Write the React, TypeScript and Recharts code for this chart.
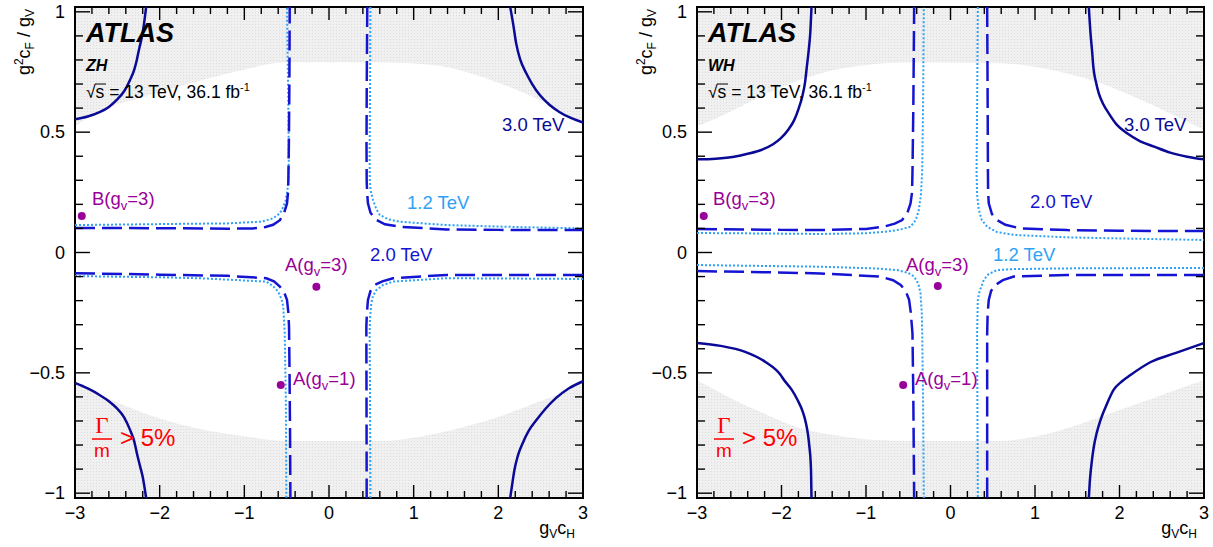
import React from "react";
import {
  ComposedChart,
  Area,
  Line,
  XAxis,
  YAxis,
  ReferenceDot,
  ReferenceArea,
} from "recharts";

const FONT = '"Liberation Sans", Arial, Helvetica, sans-serif';

// axis ticks (major + minor)
const xTicks = [
  -3, -2.8, -2.6, -2.4, -2.2, -2, -1.8, -1.6, -1.4, -1.2, -1, -0.8, -0.6, -0.4, -0.2, 0,
  0.2, 0.4, 0.6, 0.8, 1, 1.2, 1.4, 1.6, 1.8, 2, 2.2, 2.4, 2.6, 2.8, 3,
];
const yTicks = [
  -1, -0.9, -0.8, -0.7, -0.6, -0.5, -0.4, -0.3, -0.2, -0.1, 0, 0.1, 0.2, 0.3, 0.4, 0.5,
  0.6, 0.7, 0.8, 0.9, 1,
];

// Gamma/m > 5% boundary, ZH
const zhBandX = [-3, -2.7, -2.3, -1.9, -1.5, -1.1, -0.5, 0.6, 1.2, 1.6, 2.0, 2.4, 2.7, 3.0];
const zhBandUp = [0.523, 0.592, 0.635, 0.677, 0.716, 0.752, 0.79, 0.789, 0.78, 0.752, 0.705, 0.648, 0.59, 0.535];
const zhBandLo = [-0.543, -0.592, -0.652, -0.7, -0.735, -0.758, -0.783, -0.783, -0.757, -0.724, -0.683, -0.63, -0.59, -0.537];

// Gamma/m > 5% boundary, WH
const whBandX = [-3, -2.56, -2.17, -1.78, -1.38, -0.99, -0.47, 0.59, 0.99, 1.38, 1.78, 2.17, 2.56, 3.0];
const whBandUp = [0.523, 0.592, 0.661, 0.717, 0.758, 0.779, 0.789, 0.786, 0.772, 0.744, 0.703, 0.647, 0.585, 0.509];
const whBandLo = [-0.53, -0.613, -0.675, -0.73, -0.758, -0.776, -0.783, -0.783, -0.765, -0.73, -0.682, -0.634, -0.585, -0.53];

type Pt = [number, number];

// ZH contours
const zh12: Pt[][] = [
  [[-3, 0.114], [-2, 0.118], [-1.2, 0.121], [-0.8, 0.128], [-0.66, 0.142], [-0.58, 0.163], [-0.54, 0.19], [-0.51, 0.218], [-0.49, 0.26], [-0.478, 0.32], [-0.475, 0.38], [-0.48, 0.6], [-0.49, 0.85], [-0.496, 1.02]],
  [[0.489, 1.02], [0.485, 0.7], [0.48, 0.4], [0.482, 0.3], [0.49, 0.26], [0.52, 0.218], [0.56, 0.18], [0.6, 0.156], [0.7, 0.138], [0.835, 0.128], [1.386, 0.114], [2.2, 0.106], [3, 0.1]],
  [[-3, -0.098], [-2, -0.103], [-1.52, -0.107], [-0.74, -0.121], [-0.66, -0.14], [-0.6, -0.163], [-0.56, -0.195], [-0.54, -0.225], [-0.523, -0.336], [-0.51, -0.6], [-0.503, -1.02]],
  [[3, -0.11], [2, -0.108], [1.386, -0.107], [0.756, -0.121], [0.64, -0.135], [0.56, -0.156], [0.52, -0.18], [0.5, -0.211], [0.485, -0.27], [0.48, -0.336], [0.485, -0.6], [0.489, -1.02]],
];
const zh20: Pt[][] = [
  [[-3, 0.102], [-2, 0.101], [-1.2, 0.099], [-0.9, 0.1], [-0.75, 0.106], [-0.66, 0.115], [-0.58, 0.134], [-0.53, 0.165], [-0.496, 0.204], [-0.484, 0.25], [-0.48, 0.3], [-0.474, 0.45], [-0.468, 0.7], [-0.464, 1.02]],
  [[0.452, 1.02], [0.446, 0.7], [0.443, 0.45], [0.445, 0.3], [0.45, 0.25], [0.46, 0.204], [0.49, 0.165], [0.56, 0.135], [0.66, 0.117], [0.835, 0.107], [1.386, 0.096], [2, 0.094], [3, 0.093]],
  [[-3, -0.086], [-2, -0.092], [-1.2, -0.097], [-0.74, -0.107], [-0.65, -0.12], [-0.58, -0.142], [-0.53, -0.165], [-0.496, -0.197], [-0.48, -0.25], [-0.472, -0.308], [-0.466, -0.5], [-0.46, -0.75], [-0.456, -1.02]],
  [[3, -0.093], [2, -0.093], [1.386, -0.093], [0.756, -0.107], [0.63, -0.12], [0.54, -0.135], [0.49, -0.16], [0.46, -0.197], [0.448, -0.25], [0.441, -0.308], [0.443, -0.6], [0.445, -1.02]],
];
const zh30: Pt[][] = [
  [[-3, 0.554], [-2.85, 0.565], [-2.71, 0.583], [-2.6, 0.605], [-2.51, 0.633], [-2.42, 0.67], [-2.35, 0.717], [-2.3, 0.76], [-2.27, 0.8], [-2.24, 0.85], [-2.21, 0.895], [-2.185, 0.95], [-2.16, 1.02]],
  [[2.14, 1.02], [2.175, 0.95], [2.21, 0.87], [2.26, 0.8], [2.33, 0.745], [2.4, 0.7], [2.49, 0.654], [2.6, 0.615], [2.72, 0.584], [2.85, 0.56], [3, 0.54]],
  [[-3, -0.542], [-2.85, -0.565], [-2.71, -0.592], [-2.6, -0.618], [-2.51, -0.646], [-2.42, -0.685], [-2.35, -0.737], [-2.3, -0.785], [-2.27, -0.833], [-2.23, -0.89], [-2.2, -0.933], [-2.16, -1.02]],
  [[2.14, -1.02], [2.165, -0.96], [2.19, -0.904], [2.23, -0.845], [2.29, -0.79], [2.36, -0.74], [2.45, -0.696], [2.56, -0.648], [2.68, -0.605], [2.83, -0.565], [3, -0.535]],
];

// WH contours
const wh12: Pt[][] = [
  [[-3, 0.081], [-2.2, 0.079], [-1.54, 0.077], [-1.0, 0.08], [-0.75, 0.087], [-0.6, 0.095], [-0.473, 0.107], [-0.41, 0.135], [-0.375, 0.177], [-0.35, 0.24], [-0.335, 0.336], [-0.325, 0.6], [-0.316, 1.02]],
  [[0.323, 1.02], [0.315, 0.6], [0.308, 0.336], [0.315, 0.24], [0.335, 0.177], [0.37, 0.135], [0.434, 0.107], [0.55, 0.085], [0.75, 0.073], [1.38, 0.063], [2.2, 0.057], [3, 0.052]],
  [[-3, -0.052], [-2.2, -0.056], [-1.54, -0.059], [-0.9, -0.066], [-0.63, -0.073], [-0.5, -0.085], [-0.43, -0.1], [-0.38, -0.13], [-0.355, -0.17], [-0.34, -0.25], [-0.335, -0.336], [-0.325, -0.6], [-0.316, -1.02]],
  [[3, -0.064], [2.2, -0.065], [1.38, -0.066], [0.75, -0.069], [0.55, -0.073], [0.45, -0.09], [0.394, -0.114], [0.345, -0.16], [0.323, -0.197], [0.315, -0.336], [0.318, -0.6], [0.323, -1.02]],
];
const wh20: Pt[][] = [
  [[-3, 0.098], [-2, 0.094], [-1.54, 0.093], [-1.0, 0.098], [-0.79, 0.107], [-0.66, 0.12], [-0.572, 0.135], [-0.51, 0.165], [-0.473, 0.204], [-0.455, 0.25], [-0.45, 0.336], [-0.44, 0.6], [-0.43, 1.02]],
  [[0.434, 1.02], [0.44, 0.6], [0.443, 0.336], [0.445, 0.25], [0.453, 0.204], [0.49, 0.16], [0.55, 0.135], [0.65, 0.115], [0.83, 0.1], [1.38, 0.093], [2, 0.09], [3, 0.089]],
  [[-3, -0.077], [-2.2, -0.082], [-1.54, -0.087], [-0.83, -0.1], [-0.68, -0.115], [-0.59, -0.135], [-0.53, -0.16], [-0.49, -0.197], [-0.47, -0.25], [-0.45, -0.336], [-0.44, -0.6], [-0.43, -1.02]],
  [[3, -0.093], [2, -0.093], [1.38, -0.093], [0.75, -0.1], [0.62, -0.115], [0.53, -0.135], [0.48, -0.16], [0.453, -0.197], [0.44, -0.25], [0.434, -0.336], [0.434, -0.6], [0.434, -1.02]],
];
const wh30: Pt[][] = [
  [[-3, 0.387], [-2.78, 0.39], [-2.56, 0.398], [-2.4, 0.41], [-2.24, 0.426], [-2.1, 0.45], [-2.01, 0.474], [-1.92, 0.51], [-1.85, 0.55], [-1.8, 0.595], [-1.755, 0.647], [-1.72, 0.71], [-1.7, 0.772], [-1.675, 0.85], [-1.66, 0.91], [-1.645, 1.02]],
  [[1.637, 1.02], [1.657, 0.91], [1.675, 0.84], [1.69, 0.772], [1.72, 0.71], [1.755, 0.661], [1.81, 0.615], [1.873, 0.578], [1.97, 0.53], [2.09, 0.495], [2.24, 0.463], [2.41, 0.44], [2.6, 0.415], [2.8, 0.398], [3, 0.387]],
  [[-3, -0.376], [-2.72, -0.388], [-2.43, -0.413], [-2.19, -0.455], [-2.01, -0.509], [-1.97, -0.53], [-1.88, -0.57], [-1.81, -0.613], [-1.75, -0.66], [-1.71, -0.71], [-1.685, -0.76], [-1.67, -0.807], [-1.655, -0.87], [-1.65, -0.917], [-1.645, -1.02]],
  [[1.637, -1.02], [1.647, -0.96], [1.657, -0.917], [1.675, -0.86], [1.696, -0.807], [1.73, -0.75], [1.775, -0.696], [1.85, -0.63], [1.93, -0.571], [2.03, -0.535], [2.13, -0.509], [2.37, -0.455], [2.66, -0.418], [3, -0.376]],
];

// benchmark points: A(gv=3), A(gv=1), B(gv=3)
const zhPoints: Pt[] = [[-0.149, -0.142], [-0.57, -0.55], [-2.92, 0.152]];
const whPoints: Pt[] = [[-0.15, -0.139], [-0.56, -0.55], [-2.92, 0.152]];

const C12 = "#2ea2f6";
const C20 = "#1414d2";
const C30 = "#0a0a96";
const PURPLE = "#990099";

const toRows = (pts: Pt[]) => pts.map(([x, y]) => ({ x, y }));
const fmt = (v: number) => (v < 0 ? "\u2212" + String(-v) : String(v));

function XTick(props: any) {
  const { x, y, payload, plotH } = props;
  const v = payload.value;
  const major = Math.abs(v - Math.round(v)) < 1e-6;
  const len = major ? 13 : 7;
  return (
    <g>
      <line x1={x} y1={y} x2={x} y2={y - len} stroke="#000" strokeWidth={1.4} />
      <line x1={x} y1={y - plotH} x2={x} y2={y - plotH + len} stroke="#000" strokeWidth={1.4} />
      {major && (
        <text x={x} y={y + 21} textAnchor="middle" fontSize={18} fontFamily={FONT} fill="#000">
          {fmt(v)}
        </text>
      )}
    </g>
  );
}

function YTick(props: any) {
  const { x, y, payload, plotW } = props;
  const v = payload.value;
  const major = Math.abs(v * 2 - Math.round(v * 2)) < 1e-6;
  const len = major ? 15 : 8;
  return (
    <g>
      <line x1={x} y1={y} x2={x + len} y2={y} stroke="#000" strokeWidth={1.4} />
      <line x1={x + plotW} y1={y} x2={x + plotW - len} y2={y} stroke="#000" strokeWidth={1.4} />
      {major && (
        <text x={x - 10} y={y + 6} textAnchor="end" fontSize={18} fontFamily={FONT} fill="#000">
          {fmt(v)}
        </text>
      )}
    </g>
  );
}

// label with a lowered subscript, e.g. A(g_v=3)
function SubLabel({ x, y, pre, sub, post, fill }: any) {
  return (
    <text x={x} y={y} fontSize={18.5} fill={fill}>
      {pre}
      <tspan dy={5} fontSize={13}>{sub}</tspan>
      <tspan dy={-5}>{post}</tspan>
    </text>
  );
}

interface Ann {
  channel: string;
  ox: number;
  yTitleX: number;
  xTitleEnd: number;
  l30: [number, number];
  l20: [number, number];
  l12: [number, number];
  a3: [number, number];
  a1: [number, number];
  b3: [number, number];
  gx: number;
}

function Annotations({ a }: { a: Ann }) {
  return (
    <g fontFamily={FONT}>
      <text x={a.ox} y={42} fontSize={27} fontWeight="bold" fontStyle="italic">ATLAS</text>
      <text x={a.ox} y={71} fontSize={16} fontWeight="bold" fontStyle="italic">{a.channel}</text>
      <text x={a.ox} y={98} fontSize={17.5}>
        {"\u221as = 13 TeV, 36.1 fb"}
        <tspan dy={-7} fontSize={11}>-1</tspan>
      </text>
      <line x1={a.ox + 9} y1={84} x2={a.ox + 20} y2={84} stroke="#000" strokeWidth={1} />

      <text x={a.l30[0]} y={a.l30[1]} fontSize={18.5} fill={C30}>3.0 TeV</text>
      <text x={a.l20[0]} y={a.l20[1]} fontSize={18.5} fill={C20}>2.0 TeV</text>
      <text x={a.l12[0]} y={a.l12[1]} fontSize={18.5} fill={C12}>1.2 TeV</text>

      <SubLabel x={a.a3[0]} y={a.a3[1]} pre="A(g" sub="v" post="=3)" fill={PURPLE} />
      <SubLabel x={a.a1[0]} y={a.a1[1]} pre="A(g" sub="v" post="=1)" fill={PURPLE} />
      <SubLabel x={a.b3[0]} y={a.b3[1]} pre="B(g" sub="v" post="=3)" fill={PURPLE} />

      <text x={a.gx} y={433} textAnchor="middle" fontSize={23} fill="#ff0000" fontFamily='"Liberation Serif", serif'>
        {"\u0393"}
      </text>
      <line x1={a.gx - 10} y1={439} x2={a.gx + 10} y2={439} stroke="#ff0000" strokeWidth={1.5} />
      <text x={a.gx} y={457} textAnchor="middle" fontSize={19} fill="#ff0000">m</text>
      <text x={a.gx + 18} y={446} fontSize={24} fill="#ff0000">{"> 5%"}</text>

      <text x={a.xTitleEnd} y={534} textAnchor="end" fontSize={18}>
        g<tspan dy={4} fontSize={12}>V</tspan>
        <tspan dy={-4}>c</tspan>
        <tspan dy={4} fontSize={12}>H</tspan>
      </text>
      <text transform={`translate(${a.yTitleX},9) rotate(-90)`} textAnchor="end" fontSize={18}>
        g<tspan dy={-7} fontSize={12}>2</tspan>
        <tspan dy={7}>c</tspan>
        <tspan dy={4} fontSize={12}>F</tspan>
        <tspan dy={-4}>{" / g"}</tspan>
        <tspan dy={4} fontSize={12}>V</tspan>
      </text>
    </g>
  );
}

interface PanelProps {
  id: string;
  left: number;
  width: number;
  yAxisW: number;
  rightM: number;
  bandX: number[];
  bandUp: number[];
  bandLo: number[];
  c12: Pt[][];
  c20: Pt[][];
  c30: Pt[][];
  points: Pt[];
  ann: Ann;
}

function Panel(p: PanelProps) {
  const plotH = 491;
  const plotW = p.width - p.yAxisW - p.rightM;
  const rows = p.bandX.map((x, i) => ({
    x,
    top: [p.bandUp[i], 1.02],
    bot: [-1.02, p.bandLo[i]],
  }));
  const fill = `url(#hatch-${p.id})`;
  return (
    <div style={{ position: "absolute", left: p.left, top: 0, width: p.width, height: 547 }}>
      <ComposedChart
        width={p.width}
        height={547}
        data={rows}
        margin={{ top: 7, right: p.rightM, bottom: 0, left: 0 }}
      >
        <defs>
          <pattern id={`hatch-${p.id}`} width="3" height="3" patternUnits="userSpaceOnUse">
            <rect width="3" height="3" fill="#f0f0f0" />
            <rect width="1" height="1" fill="#dcdcdc" />
          </pattern>
        </defs>
        <XAxis
          dataKey="x"
          type="number"
          domain={[-3, 3]}
          ticks={xTicks}
          interval={0}
          allowDataOverflow
          height={49}
          tickSize={0}
          tickMargin={0}
          axisLine={false}
          tick={<XTick plotH={plotH} />}
        />
        <YAxis
          type="number"
          domain={[-1.02, 1.02]}
          ticks={yTicks}
          interval={0}
          allowDataOverflow
          width={p.yAxisW}
          tickSize={0}
          tickMargin={0}
          axisLine={false}
          tick={<YTick plotW={plotW} />}
        />
        <Area dataKey="top" type="monotone" stroke="none" fill={fill} fillOpacity={1} isAnimationActive={false} />
        <Area dataKey="bot" type="monotone" stroke="none" fill={fill} fillOpacity={1} isAnimationActive={false} />
        {p.c30.map((pts, i) => (
          <Line key={`s${i}`} data={toRows(pts)} dataKey="y" type="monotone" stroke={C30} strokeWidth={2.5} dot={false} activeDot={false} isAnimationActive={false} />
        ))}
        {p.c12.map((pts, i) => (
          <Line key={`d${i}`} data={toRows(pts)} dataKey="y" type="linear" stroke={C12} strokeWidth={2} strokeDasharray="2 2" dot={false} activeDot={false} isAnimationActive={false} />
        ))}
        {p.c20.map((pts, i) => (
          <Line key={`m${i}`} data={toRows(pts)} dataKey="y" type="linear" stroke={C20} strokeWidth={2.5} strokeDasharray="20 7" dot={false} activeDot={false} isAnimationActive={false} />
        ))}
        {p.points.map(([x, y], i) => (
          <ReferenceDot key={`p${i}`} x={x} y={y} r={4} fill={PURPLE} stroke="none" />
        ))}
        <ReferenceArea x1={-3} x2={3} y1={-1.02} y2={1.02} fill="none" stroke="#000" strokeWidth={2} ifOverflow="visible" />
      </ComposedChart>
      <svg
        width={p.width}
        height={547}
        style={{ position: "absolute", left: 0, top: 0, pointerEvents: "none" }}
      >
        <Annotations a={p.ann} />
      </svg>
    </div>
  );
}

const zhAnn: Ann = {
  channel: "ZH",
  ox: 86,
  yTitleX: 30,
  xTitleEnd: 575,
  l30: [502, 131],
  l20: [370, 261],
  l12: [407, 209],
  a3: [285, 271],
  a1: [293, 385],
  b3: [92, 205],
  gx: 102,
};

const whAnn: Ann = {
  channel: "WH",
  ox: 102,
  yTitleX: 46,
  xTitleEnd: 591,
  l30: [518, 131],
  l20: [424, 208],
  l12: [387, 261],
  a3: [300, 271],
  a1: [309, 385],
  b3: [107, 205],
  gx: 118,
};

export default function App() {
  return (
    <div style={{ position: "absolute", left: 0, top: 0, width: 1213, height: 547, background: "#fff" }}>
      <Panel
        id="zh"
        left={0}
        width={606}
        yAxisW={75}
        rightM={23}
        bandX={zhBandX}
        bandUp={zhBandUp}
        bandLo={zhBandLo}
        c12={zh12}
        c20={zh20}
        c30={zh30}
        points={zhPoints}
        ann={zhAnn}
      />
      <Panel
        id="wh"
        left={606}
        width={607}
        yAxisW={91}
        rightM={9}
        bandX={whBandX}
        bandUp={whBandUp}
        bandLo={whBandLo}
        c12={wh12}
        c20={wh20}
        c30={wh30}
        points={whPoints}
        ann={whAnn}
      />
    </div>
  );
}
